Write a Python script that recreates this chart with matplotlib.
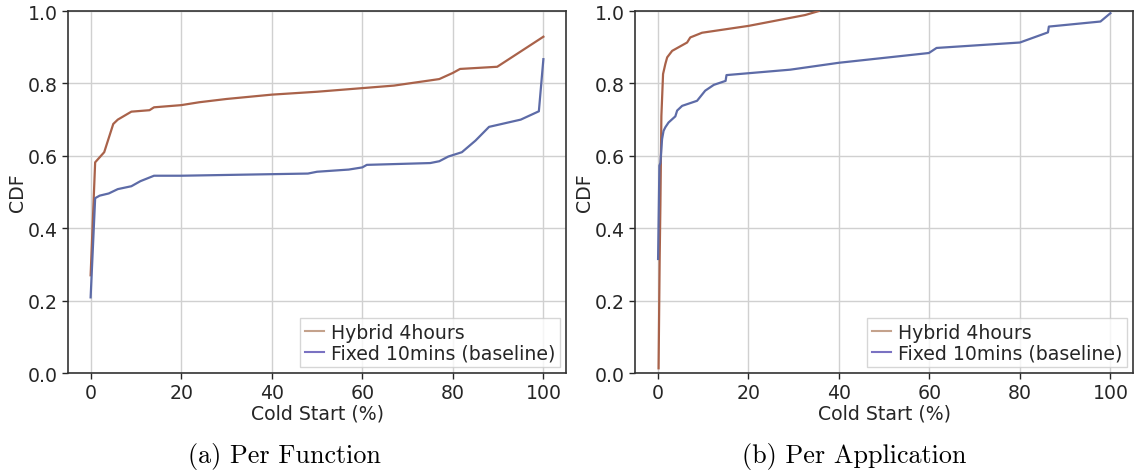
import matplotlib
matplotlib.use("Agg")
import matplotlib.pyplot as plt
from matplotlib.lines import Line2D

# ---- data ----
func_hybrid_x = [0, 1, 3, 5, 6, 9, 13, 14, 20, 24, 30, 40, 50, 60, 67, 77, 80, 81.6, 89.8, 100]
func_hybrid_y = [0.27, 0.582, 0.61, 0.688, 0.70, 0.722, 0.726, 0.734, 0.740, 0.748, 0.757, 0.769,
                 0.777, 0.787, 0.794, 0.812, 0.829, 0.840, 0.846, 0.929]
func_fixed_x = [0, 1, 2, 4, 6, 9, 11, 14, 20, 48, 50, 57, 60, 61, 75, 77, 79, 82, 85, 88, 95, 99, 100]
func_fixed_y = [0.209, 0.483, 0.49, 0.496, 0.508, 0.516, 0.53, 0.545, 0.545, 0.551, 0.556, 0.562,
                0.568, 0.575, 0.58, 0.585, 0.598, 0.61, 0.642, 0.68, 0.70, 0.723, 0.867]

app_hybrid_x = [0.2, 0.44, 0.6, 0.82, 1.19, 1.7, 2.1, 3.2, 6.5, 7.2, 9.8, 20.1, 32.6, 35.6]
app_hybrid_y = [0.013, 0.315, 0.462, 0.71, 0.826, 0.854, 0.872, 0.89, 0.913, 0.927, 0.94, 0.959,
                0.989, 1.0]
app_fixed_x = [0.09, 0.38, 0.6, 0.97, 1.3, 1.7, 2.4, 3.9, 4.3, 5.4, 8.7, 10.5, 12.4, 15, 15.2,
               29.3, 40, 59.9, 61.6, 80, 86.2, 86.4, 97.8, 100]
app_fixed_y = [0.315, 0.573, 0.58, 0.646, 0.669, 0.679, 0.692, 0.709, 0.725, 0.738, 0.752, 0.78,
               0.796, 0.807, 0.823, 0.838, 0.857, 0.884, 0.898, 0.913, 0.941, 0.957, 0.971, 0.994]

labels = ["Hybrid 4hours", "Fixed 10mins (baseline)"]
captions = ["(a) Per Function", "(b) Per Application"]
xticks = [0, 20, 40, 60, 80, 100]
yticks = [0.0, 0.2, 0.4, 0.6, 0.8, 1.0]

# ---- style ----
hyb_color = "#a9624a"
fix_color = "#5d6ba7"
hyb_leg = "#c4a28c"
fix_leg = "#7a72c2"
text_color = "#262626"
fs = 13.6

fig = plt.figure(figsize=(11.35, 4.77), dpi=100)
axes = [fig.add_axes([0.0599, 0.2159, 0.4388, 0.7589]),
        fig.add_axes([0.5595, 0.2159, 0.4388, 0.7589])]

data = [(func_hybrid_x, func_hybrid_y, func_fixed_x, func_fixed_y),
        (app_hybrid_x, app_hybrid_y, app_fixed_x, app_fixed_y)]

for ax, (hx, hy, fx, fy), cap in zip(axes, data, captions):
    ax.plot(hx, hy, color=hyb_color, lw=1.6, zorder=3)
    ax.plot(fx, fy, color=fix_color, lw=1.6, zorder=3)
    ax.set_xlim(-5, 105)
    ax.set_ylim(0, 1.0)
    ax.set_xticks(xticks)
    ax.set_yticks(yticks)
    ax.set_yticklabels([f"{v:.1f}" for v in yticks])
    ax.grid(True, color="#d0d0d0", lw=1.0)
    ax.set_axisbelow(True)
    for s in ax.spines.values():
        s.set_color("#333333")
        s.set_linewidth(1.2)
    ax.tick_params(axis="both", labelsize=fs, colors=text_color, length=4, width=1)
    ax.set_xlabel("Cold Start (%)", fontsize=fs, color=text_color, labelpad=1)
    ax.set_ylabel("CDF", fontsize=fs, color=text_color, labelpad=0.5)
    handles = [Line2D([], [], color=hyb_leg, lw=1.5), Line2D([], [], color=fix_leg, lw=1.5)]
    leg = ax.legend(handles, labels, loc="lower right", fontsize=fs, handlelength=1.0,
                    handletextpad=0.4, borderpad=0.25, labelspacing=0.1,
                    frameon=True, fancybox=False, borderaxespad=0.3)
    leg.get_frame().set_edgecolor("#cccccc")
    leg.get_frame().set_linewidth(1.0)
    for t in leg.get_texts():
        t.set_color(text_color)

fig.text(0.251, 0.042, captions[0], fontsize=18.8, family="cmr10", ha="center", va="center")
fig.text(0.753, 0.042, captions[1], fontsize=18.8, family="cmr10", ha="center", va="center")

fig.savefig("out.png", dpi=100)
